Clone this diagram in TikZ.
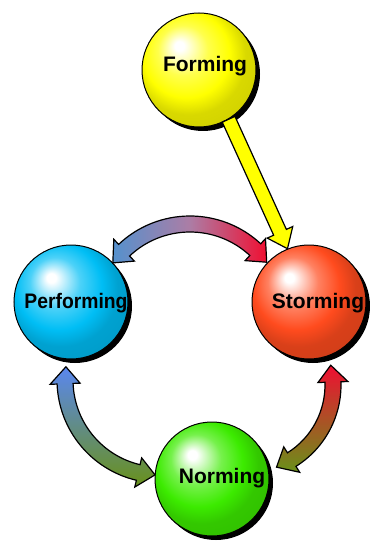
\documentclass[tikz,border=0pt]{standalone}
\usepackage{fontspec}
\setmainfont{Liberation Sans}
\usetikzlibrary{calc}
\definecolor{cYel}{RGB}{255,255,0}
\definecolor{cBlu}{RGB}{0,190,245}
\definecolor{cRed}{RGB}{255,75,30}
\definecolor{cGrn}{RGB}{60,235,0}
\definecolor{aSteel}{RGB}{85,145,205}
\definecolor{aMauve}{RGB}{172,125,165}
\definecolor{aRed}{RGB}{240,15,50}
\definecolor{aBlue}{RGB}{90,135,240}
\definecolor{aOlive}{RGB}{105,145,25}
\colorlet{sphbase}{cYel}
\pgfdeclareradialshading[sphbase]{sphere}{\pgfqpoint{-9bp}{11bp}}{color(0bp)=(white); color(2bp)=(white); color(11bp)=(sphbase!70!white); color(19bp)=(sphbase); color(25bp)=(sphbase!85!black); color(50bp)=(sphbase!75!black)}
% #1 centre coordinate, #2 radius, #3 start angle, #4 end angle, #5 shading options
\newcommand{\gradarc}[5]{%
  \pgfmathsetmacro{\gaD}{17/#2*57.2958}%
  \pgfmathsetmacro{\gaA}{#3+\gaD}%
  \pgfmathsetmacro{\gaB}{#4-\gaD}%
  \pgfmathsetmacro{\gaRo}{#2+8}%
  \pgfmathsetmacro{\gaRi}{#2-8}%
  \pgfmathsetmacro{\gaHo}{#2+15}%
  \pgfmathsetmacro{\gaHi}{#2-15}%
  \shadedraw[arcline,#5] ($(#1)+(\gaA:\gaRo)$) arc[start angle=\gaA, end angle=\gaB, radius=\gaRo]
    -- ($(#1)+(\gaB:\gaHo)$) -- ($(#1)+(#4:#2)$) -- ($(#1)+(\gaB:\gaHi)$)
    -- ($(#1)+(\gaB:\gaRi)$) arc[start angle=\gaB, end angle=\gaA, radius=\gaRi]
    -- ($(#1)+(\gaA:\gaHi)$) -- ($(#1)+(#3:#2)$) -- ($(#1)+(\gaA:\gaHo)$) -- cycle;%
}
\begin{document}
\begin{tikzpicture}[x=1pt,y=-1pt,
  ball/.style={circle, minimum size=114pt, inner sep=0pt, draw=black, line width=1pt,
    shade, shading=sphere, /utils/exec={\colorlet{sphbase}{#1}}},
  shadow/.style={fill=black},
  lbl/.style={font=\bfseries\fontsize{21}{21}\selectfont, text=black, inner sep=0pt},
  arcline/.style={draw=black, line width=1.2pt, line join=miter}]
\useasboundingbox (0,0) rectangle (369,545);
\fill[white] (0,0) rectangle (369,545);
\coordinate (cF) at (199,70);
\coordinate (cP) at (71,302);
\coordinate (cS) at (309,302);
\coordinate (cN) at (212,479);
% shadows
\foreach \c in {cF,cP,cS,cN} \fill[shadow] ($(\c)+(4,4)$) circle[radius=57];
% spheres
\node[ball=cYel] (F) at (cF) {};
\node[ball=cBlu] (P) at (cP) {};
\node[ball=cRed] (St) at (cS) {};
\node[ball=cGrn] (N) at (cN) {};
% Forming -> Storming
\coordinate (ys) at (F.-59);
\coordinate (yt) at (St.112);
\coordinate (yb) at ($(yt)!18pt!(ys)$);
\filldraw[fill=cYel, arcline]
  ($(ys)!7pt!90:(yt)$) -- ($(yb)!7pt!90:(yt)$) -- ($(yb)!14pt!90:(yt)$) -- (yt)
  -- ($(yb)!14pt!-90:(yt)$) -- ($(yb)!7pt!-90:(yt)$) -- ($(ys)!7pt!-90:(yt)$) -- cycle;
% cycle arrows
\coordinate (aTop) at (190,320);
\coordinate (aLeft) at (160,380);
\coordinate (aRight) at (245,385);
\gradarc{aTop}{96}{216.5}{323}{left color=aSteel, right color=aRed, middle color=aMauve}
\gradarc{aLeft}{95}{93}{188}{top color=aBlue, bottom color=aOlive}
\gradarc{aRight}{88}{-13}{69}{top color=aRed, bottom color=aOlive}
% labels
\node[lbl] (Ft) at (205,66) {Forming};
\node[lbl] (Pt) at (76,303) {\scalebox{0.92}[1]{Performing}};
\node[lbl] (St2) at (318,303) {Storming};
\node[lbl] (Nt) at (222,478) {Norming};
\end{tikzpicture}
\end{document}
